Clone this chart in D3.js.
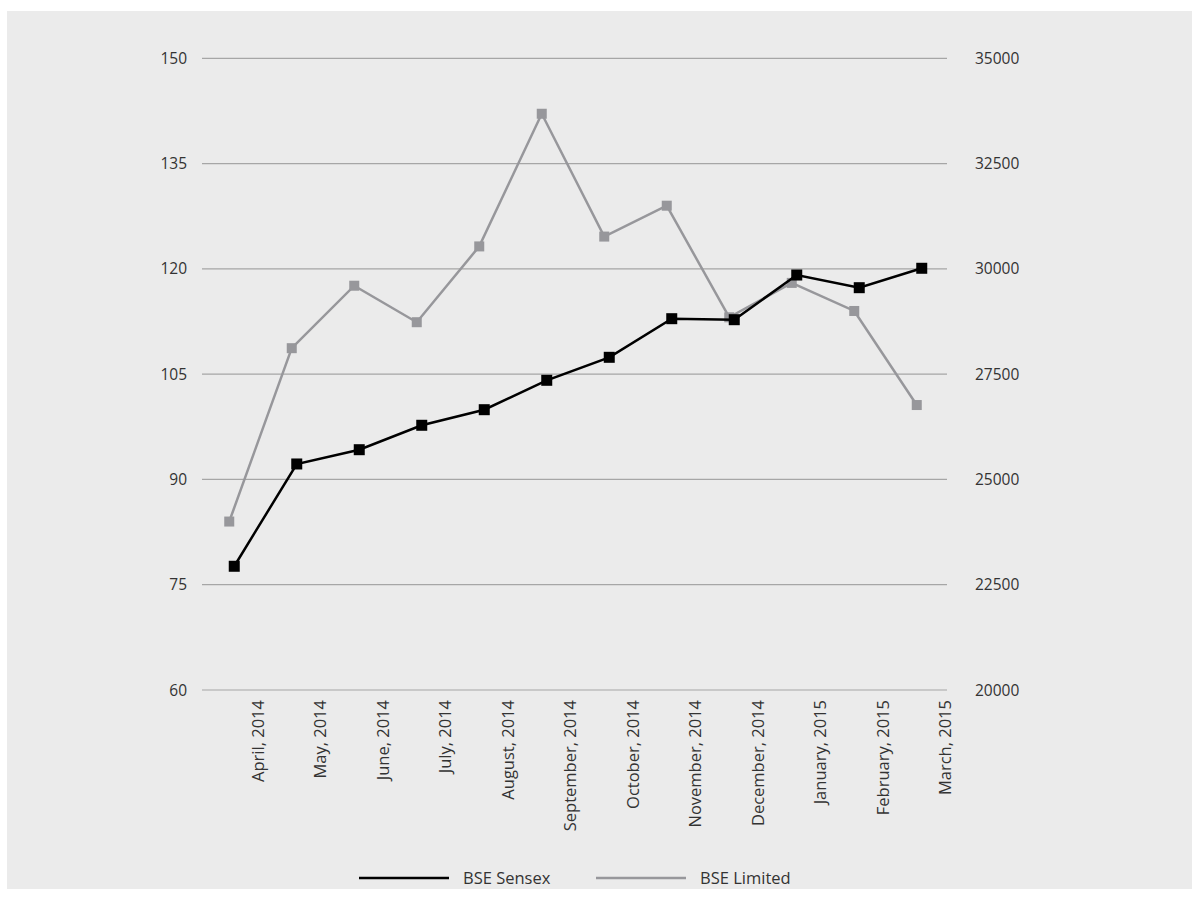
<!DOCTYPE html>
<html>
<head>
<meta charset="utf-8">
<script src="https://cdn.jsdelivr.net/npm/d3@7"></script>
<style>
  html, body { margin: 0; padding: 0; background: #fff; }
  text { font-family: "Open Sans", sans-serif; fill: #333; }
</style>
</head>
<body>
<div id="chart"></div>
<script>
const months = ["April, 2014", "May, 2014", "June, 2014", "July, 2014", "August, 2014", "September, 2014",
    "October, 2014", "November, 2014", "December, 2014", "January, 2015", "February, 2015", "March, 2015"];
const sensex = [22938, 25367, 25706, 26286, 26656, 27354, 27900, 28817, 28793, 29854, 29553, 30014];
const bseLtd = [84.0, 108.7, 117.6, 112.4, 123.2, 142.1, 124.6, 129.0, 113.1, 118.0, 114.0, 100.6];
const leftTicks = [60, 75, 90, 105, 120, 135, 150];
const rightTicks = [20000, 22500, 25000, 27500, 30000, 32500, 35000];

const width = 1201, height = 899;
const svg = d3.select("#chart")
    .append("svg")
    .attr("width", width)
    .attr("height", height);

// fond gris
svg.append("rect")
    .attr("x", 7).attr("y", 11)
    .attr("width", 1185).attr("height", 878)
    .attr("fill", "#ebebeb");

const x = d3.scaleBand().domain(months).range([200.5, 950.5]);
const yL = d3.scaleLinear().domain([60, 150]).range([690, 58.3]);
const yR = d3.scaleLinear().domain([20000, 35000]).range([690, 58.3]);

// grille
svg.selectAll(".grid")
    .data(leftTicks)
    .enter().append("line")
    .attr("x1", 202).attr("x2", 947)
    .attr("y1", d => yL(d)).attr("y2", d => yL(d))
    .attr("stroke", "#a6a6a6")
    .attr("stroke-width", 1.2);

svg.selectAll(".ltick")
    .data(leftTicks)
    .enter().append("text")
    .attr("x", 187)
    .attr("y", d => yL(d) + 5.5)
    .attr("text-anchor", "end")
    .attr("font-size", "15.5px")
    .text(d => d);

svg.selectAll(".rtick")
    .data(rightTicks)
    .enter().append("text")
    .attr("x", 975)
    .attr("y", d => yR(d) + 5.5)
    .attr("font-size", "15.5px")
    .text(d => d);

svg.selectAll(".xlab")
    .data(months)
    .enter().append("text")
    .attr("transform", d => `translate(${x(d) + x.bandwidth() / 2 + 32},700) rotate(-90)`)
    .attr("text-anchor", "end")
    .attr("font-size", "16.5px")
    .text(d => d);

// séries
const gx = (d, i) => x(months[i]) + x.bandwidth() / 2 - 2.5;
const bx = (d, i) => x(months[i]) + x.bandwidth() / 2 + 2.5;

const grey = "#97979b";

svg.append("path")
    .datum(bseLtd)
    .attr("fill", "none")
    .attr("stroke", grey)
    .attr("stroke-width", 2.5)
    .attr("d", d3.line().x(gx).y(d => yL(d)));

svg.selectAll(".gm")
    .data(bseLtd)
    .enter().append("rect")
    .attr("x", (d, i) => gx(d, i) - 5)
    .attr("y", d => yL(d) - 5)
    .attr("width", 10).attr("height", 10)
    .attr("fill", grey);

svg.append("path")
    .datum(sensex)
    .attr("fill", "none")
    .attr("stroke", "#000")
    .attr("stroke-width", 2.5)
    .attr("d", d3.line().x(bx).y(d => yR(d)));

svg.selectAll(".bm")
    .data(sensex)
    .enter().append("rect")
    .attr("x", (d, i) => bx(d, i) - 5.5)
    .attr("y", d => yR(d) - 5.5)
    .attr("width", 11).attr("height", 11)
    .attr("fill", "#000");

// légende
const legend = [{ name: "BSE Sensex", color: "#000", x: 359 }, { name: "BSE Limited", color: grey, x: 596 }];
legend.forEach(l => {
    svg.append("line")
        .attr("x1", l.x).attr("x2", l.x + 90)
        .attr("y1", 878).attr("y2", 878)
        .attr("stroke", l.color)
        .attr("stroke-width", 2.5);
    svg.append("text")
        .attr("x", l.x + 104)
        .attr("y", 884)
        .attr("font-size", "16.5px")
        .text(l.name);
});
</script>
</body>
</html>
